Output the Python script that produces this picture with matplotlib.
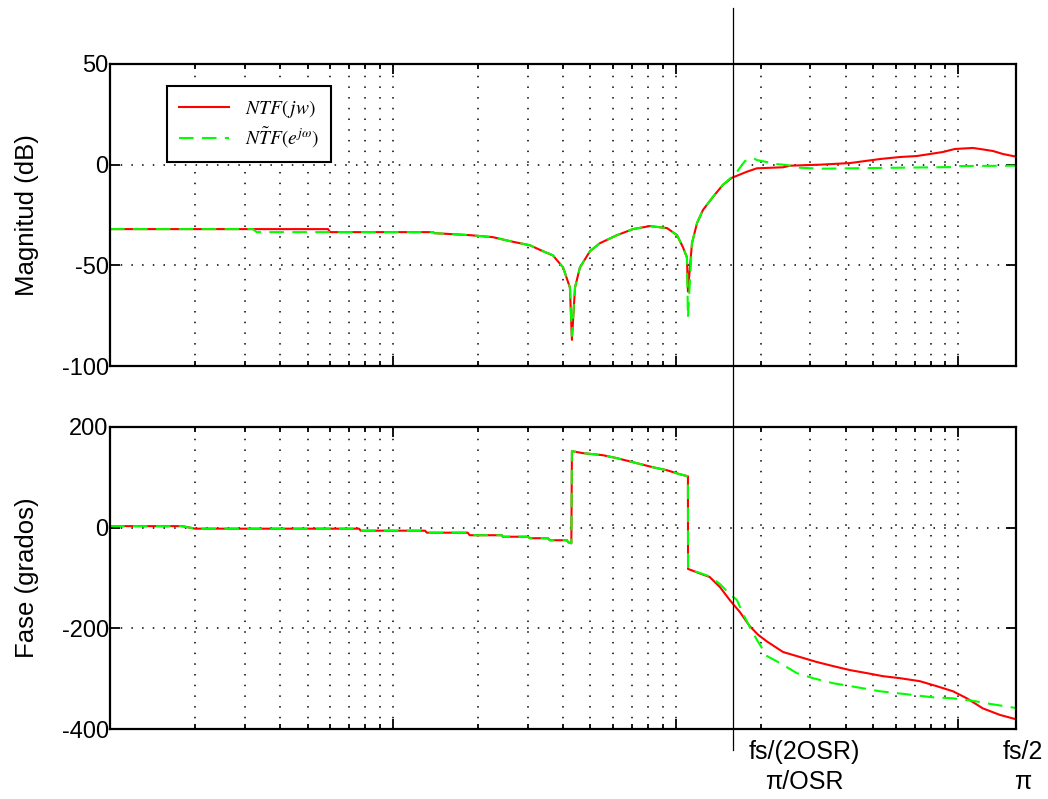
import matplotlib
matplotlib.use('Agg')
import matplotlib.pyplot as plt
from matplotlib.lines import Line2D
from matplotlib import transforms
from matplotlib.ticker import LogLocator, NullFormatter

plt.rcParams['font.family'] = ['Liberation Sans', 'DejaVu Sans']
plt.rcParams['mathtext.fontset'] = 'stix'
plt.rcParams['axes.unicode_minus'] = False

# frecuencia en Hz (fs = 32 kHz, OSR = 10)
fs = 32000
OSR = 10

# magnitud NTF(jw)
f_mag_a = [10, 59, 60, 139, 140, 187, 226, 260, 305, 340, 368, 400, 423, 430, 441, 459,
           498, 540, 621, 707, 811, 933, 1012, 1062, 1097, 1106, 1143, 1191, 1250, 1356,
           1471, 1583, 1787, 1940, 2399, 2541, 3242, 4140, 5280, 6210, 7140, 7940, 8820,
           9730, 11260, 11920, 13250, 14380, 15600, 16000]
mag_a = [-32, -32, -33.5, -33.5, -34, -35, -36, -38, -40, -43, -45, -51, -61, -87, -61, -51,
         -43, -39, -35, -32, -30.5, -31.5, -35, -41, -46, -63, -39, -29, -22.5, -16,
         -10, -6.5, -3.5, -1.8, -1.3, -0.5, 0, 0.8, 2.8, 3.8, 4.3, 5.3, 6.3,
         7.8, 8.3, 7.8, 6.8, 5.3, 4.3, 4]

# magnitud NTF~(e^jw)
f_mag_b = [10, 32, 33, 139, 140, 187, 226, 260, 305, 340, 368, 400, 423, 430, 441, 459,
           498, 540, 621, 707, 811, 933, 1012, 1062, 1097, 1106, 1143, 1191, 1250, 1356,
           1471, 1583, 1649, 1759, 1877, 1940, 2104, 2284, 2478, 2755, 3242, 4140, 6210,
           9340, 9890, 16000]
mag_b = [-32, -32, -33.5, -33.5, -34, -35, -36, -38, -40, -43, -45, -51, -61, -85, -61, -51,
         -43, -39, -35, -32, -30.5, -31.5, -35, -41, -46, -76, -39, -29, -22.5, -16,
         -10, -6, -3.5, 1.8, 3.3, 2.3, 1.3, 0.3, -0.2, -1.5, -2, -1.8, -1.5,
         -1.2, -0.7, -0.5]

# fase NTF(jw)
f_fase_a = [10, 18, 20, 76, 77, 130, 132, 184, 187, 243, 245, 301, 305, 354, 359, 413, 417,
            428, 430, 471, 553, 621, 731, 832, 933, 1038, 1106, 1107, 1219, 1320, 1435,
            1556, 1690, 1832, 1960, 2104, 2399, 2755, 3163, 3606, 4140, 4750, 5410, 6210,
            7310, 8400, 9570, 10720, 12210, 14030, 15850, 16000]
fase_a = [3, 3, -2, -2, -6, -6, -10, -10, -15, -15, -18, -18, -21, -21, -25, -25, -29,
          -31, 152, 148, 144, 138, 128, 120, 114, 106, 102, -82, -91, -98, -118,
          -144, -168, -196, -213, -226, -247, -257, -267, -275, -283, -289, -295, -299,
          -305, -315, -325, -339, -359, -372, -380, -381]

# fase NTF~(e^jw)
f_fase_b = [10, 18, 20, 76, 77, 130, 132, 184, 187, 243, 245, 301, 305, 354, 359, 413, 417,
            428, 430, 471, 553, 621, 731, 832, 933, 1038, 1106, 1107, 1219, 1320, 1435,
            1531, 1649, 1718, 1832, 1940, 2104, 2340, 2685, 3064, 3606, 4378, 5280, 6575,
            8130, 9570, 11260, 12940, 15850, 16000]
fase_b = [3, 3, -2, -2, -6, -6, -10, -10, -15, -15, -18, -18, -21, -21, -25, -25, -29,
          -31, 152, 148, 144, 138, 128, 120, 114, 106, 102, -82, -90, -97, -112,
          -128, -144, -167, -198, -223, -255, -269, -289, -299, -309, -317, -325, -331,
          -337, -339, -344, -350, -358, -358]

etiquetas = [r'$NTF(\,jw)$', r'$N\tilde{T}F(e^{j\omega})$']
xlab_pos = [2850, 16900]
xlab_txt = ['fs/(2OSR)\nπ/OSR', 'fs/2\nπ']

fig = plt.figure(figsize=(10.48, 7.99), dpi=100)
ax1 = fig.add_axes([0.105, 0.5419, 0.8645, 0.378])
ax2 = fig.add_axes([0.105, 0.0876, 0.8645, 0.378])

verde_dash = (7, 4)
ax1.plot(f_mag_a, mag_a, color='#ff0000', lw=1.5, label=etiquetas[0])
ax1.plot(f_mag_b, mag_b, color='#00ff00', lw=1.5, dashes=verde_dash, label=etiquetas[1])
ax2.plot(f_fase_a, fase_a, color='#ff0000', lw=1.5)
ax2.plot(f_fase_b, fase_b, color='#00ff00', lw=1.5, dashes=verde_dash)

for ax, yl, yt, lab in [(ax1, (-100, 50), [-100, -50, 0, 50], 'Magnitud (dB)'),
                        (ax2, (-400, 200), [-400, -200, 0, 200], 'Fase (grados)')]:
    ax.set_xscale('log')
    ax.set_xlim(10, fs / 2)
    ax.set_ylim(*yl)
    ax.set_yticks(yt)
    ax.xaxis.set_major_locator(LogLocator(base=10))
    ax.xaxis.set_minor_locator(LogLocator(base=10, subs=range(2, 10)))
    ax.xaxis.set_major_formatter(NullFormatter())
    ax.xaxis.set_minor_formatter(NullFormatter())
    ax.tick_params(which='both', direction='in', top=True, right=True, width=1.3,
                   labelsize=17, pad=1)
    ax.tick_params(which='major', length=7)
    ax.tick_params(which='minor', length=3.5)
    ax.grid(True, which='both', axis='x', color='k', lw=1.1, linestyle=(0, (1, 6)))
    ax.grid(True, which='major', axis='y', color='k', lw=1.1, linestyle=(0, (1, 6)))
    for s in ax.spines.values():
        s.set_linewidth(1.6)
    ax.set_ylabel(lab, fontsize=18.5)
    ax.yaxis.set_label_coords(-0.078, 0.5)

leg = ax1.legend(loc='upper left', bbox_to_anchor=(0.063, 0.927), borderaxespad=0,
                 fancybox=False, edgecolor='k', framealpha=1, fontsize=14,
                 handlelength=2.6, handletextpad=0.8, labelspacing=0.3, borderpad=0.6)
leg.get_frame().set_linewidth(1.5)

for x, t in zip(xlab_pos, xlab_txt):
    ax2.annotate(t, xy=(x, 0), xycoords=ax2.get_xaxis_transform(), xytext=(0, -8),
                 textcoords='offset points', ha='center', va='top', fontsize=18,
                 linespacing=1.3)

# linea vertical en fs/(2OSR)
tr = transforms.blended_transform_factory(ax2.transData, fig.transFigure)
fig.add_artist(Line2D([fs / (2 * OSR), fs / (2 * OSR)], [0.99, 0.0613], transform=tr,
                      color='k', lw=0.9))

fig.savefig('out.png', dpi=100)
